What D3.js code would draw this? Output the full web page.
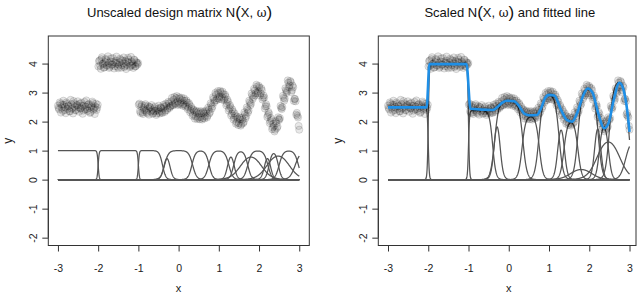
<!DOCTYPE html>
<html><head><meta charset="utf-8">
<script src="https://cdn.jsdelivr.net/npm/d3@7"></script>
<style>
html,body{margin:0;padding:0;background:#fff;}
svg{display:block;font-family:"Liberation Sans",Arial,sans-serif;}
</style></head>
<body><svg id="c" width="640" height="295"></svg>
<script>
// ---------------- data ----------------
const xTicks = [-3, -2, -1, 0, 1, 2, 3];
const yTicks = [-2, -1, 0, 1, 2, 3, 4];
const titles = ["Unscaled design matrix N", "Scaled N"];
const titleTails = ["", " and fitted line"];

// observed points, first set: x grid (-3..3 step 0.03) and read y values
const pointX = d3.range(0, 201).map(i => +(-3 + i * 0.03).toFixed(3));
const pointY = [
 2.55,2.42,2.61,2.48,2.37,2.58,2.50,2.66,2.44,2.53,2.35,2.60,2.47,2.71,2.52,2.40,2.57,2.49,2.62,2.45,2.54,2.38,2.68,2.51,2.43,2.59,2.47,2.33,2.56,2.64,2.46,2.52,2.40,2.58,
 4.08,3.93,4.15,3.98,3.86,4.05,4.12,3.95,4.02,3.89,4.18,3.97,4.06,3.91,4.10,3.99,3.84,4.04,4.13,3.94,4.01,3.88,4.09,3.96,4.20,4.03,3.92,4.07,3.98,4.14,3.90,4.05,3.97,
 2.58,2.36,2.52,2.31,2.47,2.55,2.38,2.29,2.45,2.51,2.35,2.40,2.30,2.46,2.37,2.28,2.44,2.34,2.49,2.33,
 2.45,2.52,2.38,2.55,2.46,2.63,2.52,2.70,2.58,2.76,2.64,2.81,2.69,2.62,2.79,2.66,2.74,2.61,2.72,2.57,
 2.66,2.49,2.58,2.38,2.44,2.25,2.35,2.18,2.31,2.14,2.27,2.16,2.30,2.12,2.28,2.19,2.33,2.20,2.41,2.33,
 2.57,2.52,2.78,2.72,2.93,2.80,2.98,2.86,3.01,2.84,2.95,2.79,2.86,2.62,2.68,2.45,2.50,2.27,2.35,2.13,
 2.20,1.99,2.10,1.94,2.08,1.91,2.07,1.99,2.25,2.19,2.42,2.38,2.66,2.62,2.90,2.85,3.07,2.98,3.21,3.04,
 3.17,2.97,3.08,2.82,2.83,2.52,2.53,2.22,2.27,2.01,2.05,1.80,1.85,1.72,1.94,1.83,2.08,2.12,2.47,2.50,
 2.82,2.79,3.08,3.05,3.34,3.25,3.36,3.08,3.18,2.78,2.70,2.30,2.14,1.72
];
// second set: x grid (-2.985..2.985 step 0.03)
const pointX2 = d3.range(0, 200).map(i => +(-2.985 + i * 0.03).toFixed(3));
const pointY2 = [
 2.47,2.66,2.31,2.58,2.72,2.40,2.29,2.61,2.53,2.36,2.75,2.44,2.28,2.63,2.39,2.57,2.70,2.34,2.46,2.65,2.27,2.55,2.42,2.73,2.37,2.60,2.30,2.51,2.69,2.41,2.26,2.62,2.48,
 3.90,4.11,3.82,4.22,4.00,3.87,4.16,3.93,4.25,3.85,4.07,3.95,4.19,3.83,4.03,4.24,3.89,3.96,4.17,3.86,4.10,4.21,3.92,3.81,4.06,4.14,3.88,4.23,3.94,3.85,4.12,3.91,4.02,
 4.02,2.62,2.30,2.58,2.26,2.41,2.60,2.33,2.53,2.24,2.49,2.57,2.27,2.36,2.52,2.23,2.39,2.55,2.28,2.47,
 2.30,2.58,2.33,2.62,2.40,2.68,2.47,2.54,2.82,2.56,2.85,2.60,2.88,2.57,2.84,2.59,2.82,2.55,2.80,2.52,
 2.73,2.43,2.64,2.32,2.51,2.20,2.41,2.10,2.37,2.09,2.35,2.08,2.36,2.07,2.34,2.11,2.38,2.14,2.48,2.28,
 2.63,2.45,2.84,2.66,2.99,2.74,3.05,2.78,3.06,2.77,3.03,2.74,2.93,2.56,2.75,2.38,2.57,2.21,2.42,2.07,
 2.28,1.93,2.17,1.88,2.15,1.86,2.14,1.94,2.32,2.12,2.49,2.31,2.72,2.56,2.97,2.78,3.13,2.91,3.27,2.98,
 3.23,2.90,3.15,2.76,2.90,2.45,2.60,2.16,2.33,1.95,2.12,1.74,1.92,1.66,2.01,1.78,2.15,2.06,2.54,2.43,
 2.89,2.72,3.15,2.99,3.42,3.18,3.40,3.02,3.24,2.71,2.78,2.24,2.20,1.85
];

// fitted line
const fitX = [-3.0,-2.04,-1.97,-1.05,-0.95,-0.4,-0.3,-0.15,-0.05,0.13,0.25,0.38,0.5,0.7,0.8,0.9,1.0,1.13,1.3,1.45,1.58,1.7,1.85,1.96,2.08,2.22,2.37,2.48,2.6,2.75,2.85,2.95,3.0];
const fitY = [2.49,2.49,3.98,3.98,2.44,2.40,2.48,2.66,2.72,2.70,2.55,2.28,2.22,2.23,2.45,2.80,2.92,2.90,2.40,2.05,2.00,2.30,2.90,3.14,3.00,2.30,1.77,1.95,2.70,3.34,3.10,2.30,1.65];

// basis functions: left/right edges, edge sharpness, fitted weight
const bumpL  = [-3.6,-2.0,-1.0,-0.36,-0.35,0.33,0.75,1.22,1.37,1.72,2.14,2.25,2.50,1.55,2.20,2.90];
const bumpR  = [-2.0,-1.0,-0.40,-0.22,0.35,0.76,1.25,1.38,1.72,2.22,2.28,2.48,2.98,2.05,2.75,3.40];
const bumpKL = [80,80,80,25,20,22,20,25,22,20,25,25,20,8,8,15];
const bumpKR = [80,80,25,25,20,22,20,25,22,20,25,25,20,8,8,15];
const bumpW  = [2.5,4.0,2.38,2.5,2.72,2.2,2.95,2.2,2.05,3.18,2.4,2.0,3.4,0.45,1.6,1.4];

// ---------------- drawing ----------------
const svg = d3.select("#c");
const sig = t => 1 / (1 + Math.exp(-t));
const grid = d3.range(0, 1201).map(i => -3 + i * 0.005);
const points = pointX.map((v, i) => [v, pointY[i]]).concat(pointX2.map((v, i) => [v, pointY2[i]]));

const panels = [
  {box: [48.3, 309.3], dom: [-3.24, 3.25], scaled: false, title: 0},
  {box: [378.3, 636.0], dom: [-3.241, 3.161], scaled: true, title: 1}
];
const yTop = 36, yBot = 245.5;
const axisCol = "#333";

panels.forEach(p => {
  const x = d3.scaleLinear().domain(p.dom).range(p.box);
  const y = d3.scaleLinear().domain([-2.27, 4.95]).range([yBot, yTop]);
  const g = svg.append("g");

  // basis curves
  bumpL.forEach((l, i) => {
    const pts = grid.map(v => {
      const f = sig(bumpKL[i] * (v - l)) * sig(-bumpKR[i] * (v - bumpR[i]));
      return [v, p.scaled ? f * bumpW[i] : f];
    });
    g.append("path").attr("d", d3.line().x(d => x(d[0])).y(d => y(d[1]))(pts))
      .attr("fill", "none").attr("stroke", "#555").attr("stroke-width", 1.25);
  });

  // points
  g.append("g").selectAll("circle").data(points).join("circle")
    .attr("cx", d => x(d[0])).attr("cy", d => y(d[1])).attr("r", 3.6)
    .attr("fill", "rgba(0,0,0,0.09)").attr("stroke", "rgba(0,0,0,0.16)").attr("stroke-width", 0.8);

  if (p.scaled) {
    g.append("path").datum(fitX.map((v, i) => [v, fitY[i]]))
      .attr("d", d3.line().x(d => x(d[0])).y(d => y(d[1])).curve(d3.curveMonotoneX))
      .attr("fill", "none").attr("stroke", "#1f8fe6").attr("stroke-width", 2.6);
  }

  // box
  g.append("rect").attr("x", p.box[0]).attr("y", yTop)
    .attr("width", p.box[1] - p.box[0]).attr("height", yBot - yTop)
    .attr("fill", "none").attr("stroke", axisCol).attr("stroke-width", 1);

  // x axis
  const xa = g.append("g").attr("transform", `translate(0,${yBot})`)
    .call(d3.axisBottom(x).tickValues(xTicks).tickSize(6).tickPadding(13).tickFormat(d3.format("d")));
  xa.select(".domain").attr("d", `M${x(-3)},0H${x(3)}`).attr("stroke", axisCol);
  xa.selectAll(".tick line").attr("stroke", axisCol);
  xa.selectAll("text").attr("font-size", 10.5).attr("fill", "#222")
    .attr("font-family", "Liberation Sans, Arial, sans-serif").text(d => d < 0 ? "-" + Math.abs(d) : d);

  // y axis
  const ya = g.append("g").attr("transform", `translate(${p.box[0]},0)`)
    .call(d3.axisLeft(y).tickValues(yTicks).tickSize(6).tickFormat(d3.format("d")));
  ya.select(".domain").attr("d", `M0,${y(-2)}V${y(4)}`).attr("stroke", axisCol);
  ya.selectAll(".tick line").attr("stroke", axisCol);
  ya.selectAll("text").attr("font-size", 10.5).attr("fill", "#222")
    .attr("font-family", "Liberation Sans, Arial, sans-serif")
    .attr("x", null).attr("dy", null).attr("text-anchor", "middle")
    .attr("transform", "translate(-15,0) rotate(-90)").attr("dy", "0.35em")
    .text(d => d < 0 ? "-" + Math.abs(d) : d);

  // axis titles
  const cx = (x(-3) + x(3)) / 2;
  g.append("text").attr("x", cx).attr("y", 292).attr("text-anchor", "middle")
    .attr("font-size", 11).attr("fill", "#222").text("x");
  g.append("text").attr("transform", `translate(${p.box[0] - 41},${(yTop + yBot) / 2}) rotate(-90)`)
    .attr("text-anchor", "middle").attr("dy", "0.35em")
    .attr("font-size", 12).attr("fill", "#222").text("y");

  // main title
  const t = g.append("text").attr("x", cx + 1).attr("y", 16.5).attr("text-anchor", "middle")
    .attr("font-size", 13).attr("fill", "#111");
  t.append("tspan").text(titles[p.title]);
  t.append("tspan").attr("font-size", 17).attr("dy", 1).text("(");
  t.append("tspan").attr("dy", -1).text("X,  ");
  t.append("tspan").attr("font-family", "DejaVu Serif, serif").attr("font-size", 12).text("ω");
  t.append("tspan").attr("font-size", 17).attr("dy", 1).text(")");
  t.append("tspan").attr("dy", -1).text(titleTails[p.title]);
});
</script></body></html>
